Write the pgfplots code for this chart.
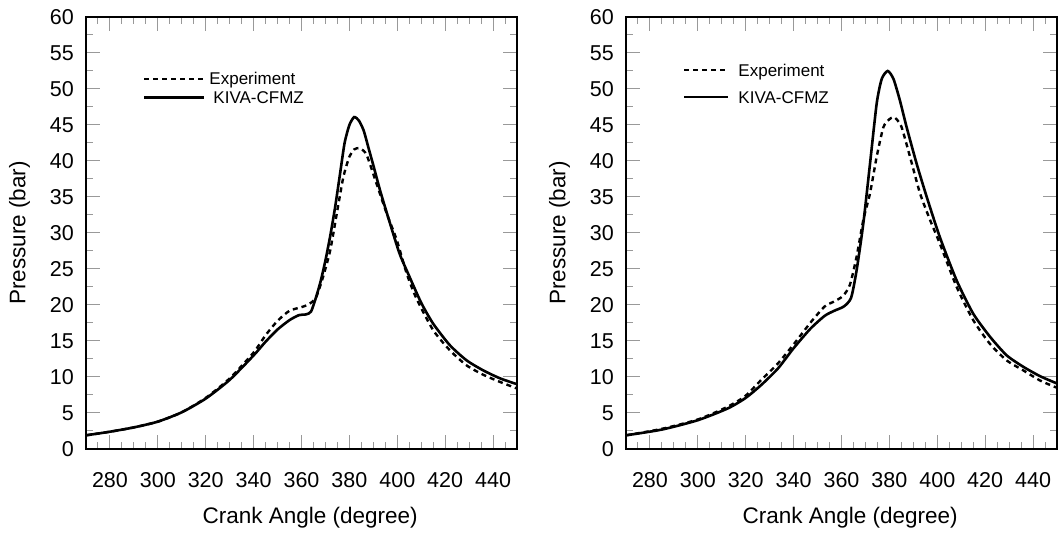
\documentclass[border=0pt]{standalone}
\usepackage{fontspec}
\setmainfont{Liberation Sans}
\usepackage{pgfplots}
\pgfplotsset{compat=1.18}
\begin{document}
\begin{tikzpicture}
\useasboundingbox (0,0) rectangle (1058pt,540pt);
\pgfplotsset{
  every axis/.style={
    scale only axis, width=431pt, height=432pt,
    xmin=270, xmax=450, ymin=0, ymax=60,
    xtick={280,300,...,440}, ytick={0,5,...,60},
    minor xtick={270,275,...,450}, minor ytick={2.5,7.5,...,57.5},
    major tick length=14pt, minor tick length=7pt,
    tick align=inside,
    every tick/.style={gray!80, line width=1pt},
    axis line style={line width=1.3pt, black},
    /pgf/number format/assume math mode=true,
    tick label style={font=\fontsize{21.5}{25}\selectfont},
    xticklabel style={anchor=center, yshift=-31pt},
    yticklabel style={anchor=east, inner sep=0pt, xshift=-12pt},
    label style={font=\fontsize{22.5}{26}\selectfont},
    xlabel={Crank Angle (degree)},
    ylabel={Pressure (bar)},
    xlabel style={at={(axis description cs:0.52,-0.158)}, anchor=center},
    ylabel style={at={(axis description cs:-0.154,0.5)}, anchor=center},
    legend cell align=left,
    legend style={draw=none, fill=none, inner sep=0pt, outer sep=0pt,
      font=\fontsize{17}{17}\selectfont, anchor=north west,
      nodes={inner sep=0pt, text height=12pt, text depth=0pt}},
  },
  expt/.style={black, line width=2.4pt, dash pattern=on 5pt off 4pt},
  kiva/.style={black, line width=2.6pt},
}
% ---------------- left ----------------
\begin{axis}[at={(86pt,91pt)}, anchor=south west,
  legend style={at={(axis description cs:0.132,0.871)}, row sep=7pt},
  legend image code/.code={\draw[#1] (0pt,0pt) -- (60pt,0pt);},
  legend style={column sep=4pt}]
\addplot[expt, smooth, tension=0.4] coordinates {
(270,1.9) (280,2.4) (290,3.0) (300,3.8) (310,5.1) (320,7.1) (330,9.8)
(340,13.4) (345,15.8) (350,17.8) (355,19.2) (360,19.7) (363,20.1)
(366,21.0) (369,23.9) (372,27.6) (375,33.2) (377.5,37.8) (380,40.6)
(382,41.6) (384,41.8) (386,41.4) (387.5,40.6) (391.4,36.8) (395.6,32.7)
(399.8,29.0) (404,24.3) (408,20.9) (415,16.5) (422,13.7) (429,11.6)
(436,10.3) (443,9.3) (450,8.4)};
\addlegendentry{Experiment}
\addplot[kiva, smooth, tension=0.4] coordinates {
(270,1.9) (280,2.4) (290,3.0) (300,3.8) (310,5.1) (320,7.0) (330,9.6)
(340,13.0) (345,14.9) (350,16.6) (355,17.9) (359,18.6) (362,18.7)
(364,19.1) (366,21.0) (368,23.3) (370,26.2) (372,29.6) (374,33.5)
(376,38.0) (378,42.5) (380,45.0) (382,46.1) (384,45.6) (386,44.2)
(388,41.8) (390,39.4) (393,35.7) (397,31.3) (401,27.1) (405,24.0)
(410,20.3) (415,17.4) (422,14.4) (429,12.3) (436,10.9) (443,9.8) (450,9.0)};
\addlegendentry{\hspace{4pt}KIVA-CFMZ}
\end{axis}
% ---------------- right ----------------
\begin{axis}[at={(626pt,91pt)}, anchor=south west,
  legend style={at={(axis description cs:0.132,0.891)}, row sep=15pt},
  legend image code/.code={\draw[#1] (0pt,0pt) -- (44pt,0pt);},
  legend style={column sep=9pt}]
\addplot[expt, smooth, tension=0.4] coordinates {
(270,1.9) (285,2.8) (300,4.1) (312,5.8) (319.6,7.3) (326.5,9.6)
(333.5,11.9) (340.4,14.7) (347.4,17.7) (353,19.8) (357,20.5)
(360.6,21.25) (363.5,22.8) (366.3,26.7) (369.1,31.8) (371.9,35.5)
(374.7,40.6) (377.5,44.7) (380,45.8) (381.7,46.1) (383,45.8)
(385.1,44.7) (388.6,40.6) (392.8,35.5) (397,31.8) (401.1,28.5)
(408.1,22.5) (415,17.9) (422,14.6) (429,12.3) (436,10.9) (443,9.5) (450,8.5)};
\addlegendentry{Experiment}
\addplot[kiva, smooth, tension=0.4] coordinates {
(270,1.9) (285,2.7) (300,4.0) (312.6,5.65) (320,7.1) (326.5,8.9)
(333.5,11.2) (340,14.0) (347,16.7) (353,18.5) (357,19.2) (361,19.8)
(364,21.0) (366.3,24.8) (369.1,31.3) (371.9,39.6) (374.7,48.0)
(376.8,51.4) (379.3,52.5) (381.7,51.4) (384.4,48.4) (387.2,44.7)
(391.4,39.6) (395.6,35.0) (401.1,29.4) (408.1,23.4) (415,18.8)
(422,15.6) (429,13.0) (436,11.4) (443,10.1) (450,9.1)};
\addlegendentry{KIVA-CFMZ}
\end{axis}
\end{tikzpicture}
\end{document}
